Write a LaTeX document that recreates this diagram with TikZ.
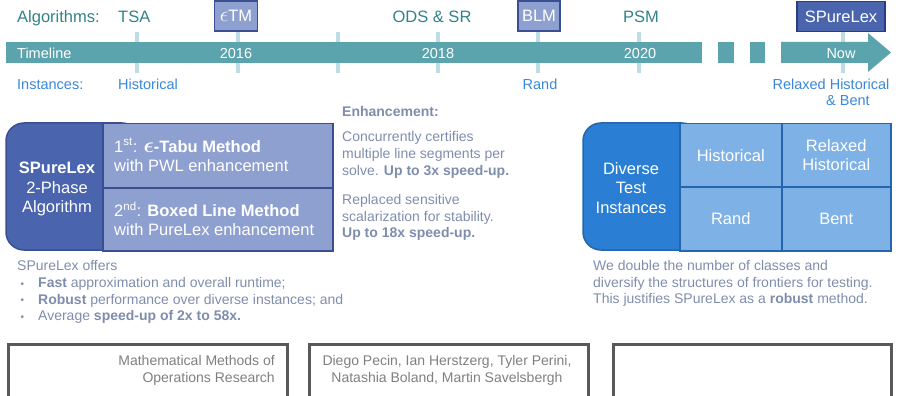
\documentclass[tikz,border=0pt]{standalone}
\usepackage{fontspec}
\setmainfont{Liberation Sans}
\usetikzlibrary{positioning}

\definecolor{barteal}{HTML}{5BA3AD}
\definecolor{ticklight}{HTML}{BEDDE2}
\definecolor{algteal}{HTML}{31828A}
\definecolor{instblue}{HTML}{3A87D9}
\definecolor{navy}{HTML}{4A64AE}
\definecolor{navyline}{HTML}{3B4E92}
\definecolor{navydeep}{HTML}{2B3C80}
\definecolor{lilac}{HTML}{8EA0D0}
\definecolor{royal}{HTML}{2A7ED3}
\definecolor{royalline}{HTML}{2565AC}
\definecolor{sky}{HTML}{7EB1E6}
\definecolor{note}{HTML}{7F8DAD}
\definecolor{framegray}{HTML}{595959}
\definecolor{credit}{HTML}{7F7F7F}

\newcommand{\fsL}{\fontsize{16.5}{19.5}\selectfont}
\newcommand{\fsM}{\fontsize{14.5}{17}\selectfont}
\newcommand{\fsS}{\fontsize{14}{16.7}\selectfont}
\newcommand{\eps}{\scalebox{1.25}{$\epsilon$}}
\newcommand{\offerbullet}{\makebox[21pt][l]{\hspace{3.5pt}\raisebox{0.5pt}{\fontsize{10}{10}\selectfont\textbullet}}}

\begin{document}
\begin{tikzpicture}[x=1pt,y=-1pt,
  tick/.style={ticklight,line width=4pt},
  alg/.style={algteal,font=\fsL,inner sep=0pt},
  inst/.style={instblue,font=\fsM,inner sep=0pt},
  year/.style={white,font=\fsM,inner sep=0pt},
  tagbox/.style={draw=navyline,line width=1.2pt,text=white,font=\fsL,minimum height=30pt,inner xsep=0pt},
  cell/.style={draw=#1,line width=1.5pt,anchor=north west,inner sep=0pt,text=white,font=\fsL,align=center},
  notetext/.style={note,font=\fsS,inner sep=0pt,align=left},
  framebox/.style={draw=framegray,line width=2.6pt,anchor=north west,minimum height=90pt,inner sep=0pt},
  credittext/.style={credit,font=\fsS,inner sep=0pt}]
  \clip (0,0) rectangle (898,396);

  \foreach \x in {137,238,338,438,538,639,843}
    \draw[tick] (\x,32) -- (\x,73);
  \fill[barteal] (6,42) rectangle (702,63);
  \fill[barteal] (718,42) rectangle (734,63);
  \fill[barteal] (750,42) rectangle (765,63);
  \fill[barteal] (781,42) -- (868,42) -- (868,33) -- (891,52.5) -- (868,72) -- (868,63) -- (781,63) -- cycle;

  \node[year,anchor=base west] (tline) at (17,58.5) {Timeline};
  \node[year,anchor=base] (y2016) at (236,58.5) {2016};
  \node[year,anchor=base] (y2018) at (438,58.5) {2018};
  \node[year,anchor=base] (y2020) at (640,58.5) {2020};
  \node[year,anchor=base] (ynow) at (841,58.5) {Now};

  \node[alg,anchor=base west] (alglab) at (17,23) {Algorithms:};
  \node[alg,anchor=base west] (tsa) at (118,23) {TSA};
  \node[tagbox,fill=lilac,minimum width=43pt] (etm) at (236,16) {\eps TM};
  \node[alg,anchor=base] (ods) at (432,23) {ODS \& SR};
  \node[tagbox,fill=lilac,minimum width=42pt] (blm) at (539,16) {BLM};
  \node[alg,anchor=base] (psm) at (641,23) {PSM};
  \node[tagbox,fill=navy,draw=navydeep,minimum width=88pt] (spl) at (841,16.5) {SPureLex};

  \node[inst,anchor=base west] (instlab) at (17,89.5) {Instances:};
  \node[inst,anchor=base west] (ihist) at (118,89.5) {Historical};
  \node[inst,anchor=base] (irand) at (540,89.5) {Rand};
  \node[inst,anchor=base] (irelax) at (831,89.5) {Relaxed Historical};
  \node[inst,anchor=base] (ibent) at (848,106) {\& Bent};

  \filldraw[fill=navy,draw=navyline,line width=1.5pt,rounded corners=18pt] (6,123) rectangle (140,250);
  \node[cell=navyline,fill=lilac,minimum width=230pt,minimum height=64pt] (ph1) at (102,123) {};
  \node[cell=navyline,fill=lilac,minimum width=230pt,minimum height=63pt] (ph2) at (102,187) {};
  \node[white,font=\fsL,align=center,inner sep=0pt] (splname) at (57,189) {\textbf{SPureLex}\\2-Phase\\Algorithm};
  \node[white,font=\fsL,align=left,anchor=west,inner sep=0pt] (ph1txt) at (114,155)
    {1\textsuperscript{st}: \textbf{{\boldmath\eps}-Tabu Method}\\with PWL enhancement};
  \node[white,font=\fsL,align=left,anchor=west,inner sep=0pt] (ph2txt) at (114,219)
    {2\textsuperscript{nd}: \textbf{Boxed Line Method}\\with PureLex enhancement};

  \node[notetext,anchor=base west] (enh) at (342,116.5) {\textbf{Enhancement:}};
  \node[notetext,anchor=north west] (enh1) at (342,131.5)
    {Concurrently certifies\\multiple line segments per\\solve. \textbf{Up to 3x speed-up.}};
  \node[notetext,anchor=north west] (enh2) at (342,194)
    {Replaced sensitive\\scalarization for stability.\\\textbf{Up to 18x speed-up.}};

  \filldraw[fill=royal,draw=royalline,line width=1.5pt,rounded corners=18pt] (583,123) rectangle (700,250);
  \node[cell=royalline,fill=sky,minimum width=102pt,minimum height=63pt] (chist) at (679,123) {Historical};
  \node[cell=royalline,fill=sky,minimum width=109pt,minimum height=63pt] (crelax) at (781,123) {Relaxed\\Historical};
  \node[cell=royalline,fill=sky,minimum width=102pt,minimum height=64pt] (crand) at (679,186) {Rand};
  \node[cell=royalline,fill=sky,minimum width=109pt,minimum height=64pt] (cbent) at (781,186) {Bent};
  \node[white,font=\fsL,align=center,inner sep=0pt] (divtxt) at (631,188) {Diverse\\Test\\Instances};

  \node[notetext,anchor=north west] (offers) at (17,260.5)
    {SPureLex offers\\
     \offerbullet\textbf{Fast} approximation and overall runtime;\\
     \offerbullet\textbf{Robust} performance over diverse instances; and\\
     \offerbullet Average \textbf{speed-up of 2x to 58x.}};
  \node[notetext,anchor=north west] (classes) at (593,260)
    {We double the number of classes and\\diversify the structures of frontiers for testing.\\This justifies SPureLex as a \textbf{robust} method.};

  \node[framebox,minimum width=279pt] (venue) at (7,343) {};
  \node[framebox,minimum width=279pt] (authors) at (308,343) {};
  \node[framebox,minimum width=278pt] (blank) at (612,343) {};
  \node[credittext,align=right,anchor=north east] (venuetxt) at (275,355) {Mathematical Methods of\\Operations Research};
  \node[credittext,align=center,anchor=north] (authtxt) at (447,355)
    {Diego Pecin, Ian Herstzerg, Tyler Perini,\\Natashia Boland, Martin Savelsbergh};
\end{tikzpicture}
\end{document}
